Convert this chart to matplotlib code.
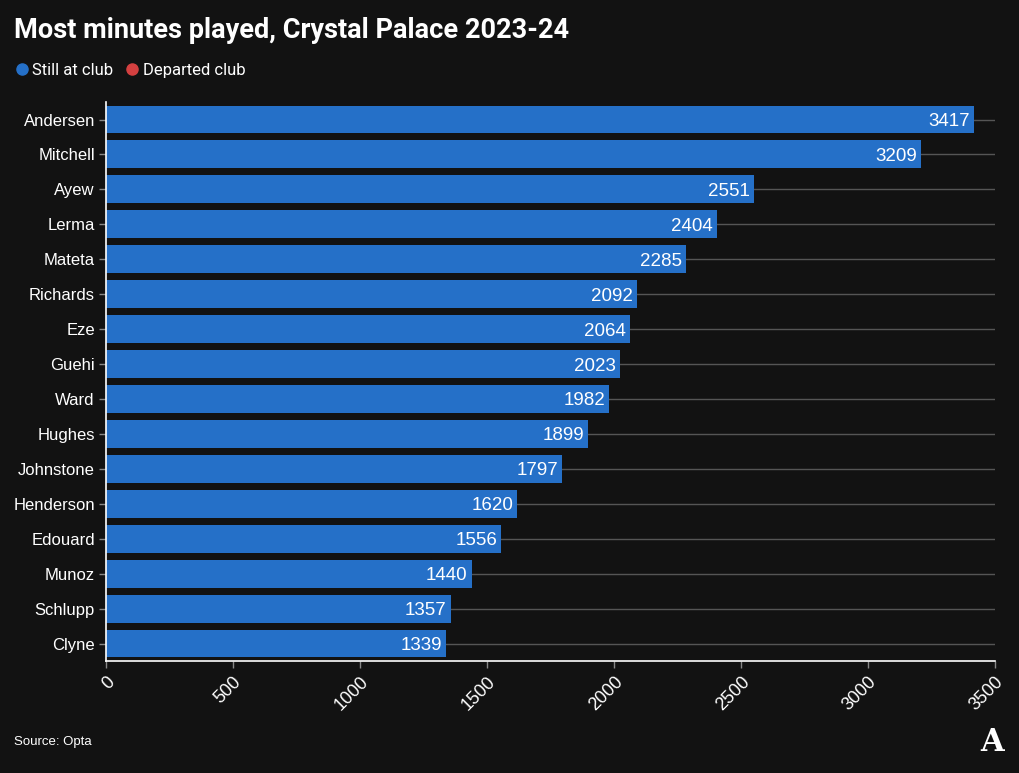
import matplotlib
matplotlib.use("Agg")
import matplotlib.pyplot as plt
from matplotlib.lines import Line2D

# data
players = ["Andersen", "Mitchell", "Ayew", "Lerma", "Mateta", "Richards", "Eze", "Guehi",
           "Ward", "Hughes", "Johnstone", "Henderson", "Edouard", "Munoz", "Schlupp", "Clyne"]
minutes = [3417, 3209, 2551, 2404, 2285, 2092, 2064, 2023,
           1982, 1899, 1797, 1620, 1556, 1440, 1357, 1339]
xticks = [0, 500, 1000, 1500, 2000, 2500, 3000, 3500]

bg = "#121212"
blue = "#2570c8"
red = "#d44040"

fig = plt.figure(figsize=(10.2, 7.73), dpi=100, facecolor=bg)
ax = fig.add_axes([0.1039, 0.1449, 0.8716, 0.7231])
ax.set_facecolor(bg)

y = list(range(len(players)))
ax.barh(y, minutes, height=0.8, color=blue, zorder=2)
for yi, v in zip(y, minutes):
    ax.text(v - 16, yi, str(v), ha="right", va="center_baseline", color="white",
            fontsize=13.5, family="Liberation Sans", zorder=3)

ax.set_ylim(len(players) - 0.5, -0.5)
ax.set_xlim(0, 3500)
ax.set_yticks(y)
ax.set_yticklabels(players, fontsize=12, color="white", family="Liberation Sans")
ax.set_xticks(xticks)
ax.set_xticklabels([str(t) for t in xticks], rotation=45, ha="right", va="top",
                   rotation_mode="anchor", fontsize=13, color="white", family="Liberation Sans")
ax.tick_params(axis="both", colors="#888888", length=5, width=1)
ax.tick_params(axis="x", pad=4, labelcolor="white")
ax.tick_params(axis="y", labelcolor="white", pad=3)

ax.grid(axis="y", color="#555555", linewidth=1, zorder=0)
ax.grid(axis="x", visible=False)
for s in ["top", "right"]:
    ax.spines[s].set_visible(False)
for s in ["left", "bottom"]:
    ax.spines[s].set_color("white")
    ax.spines[s].set_linewidth(1.2)

fig.text(0.014, 0.961, "Most minutes played, Crystal Palace 2023-24", ha="left", va="center",
         color="white", fontsize=19.5, fontweight="bold", family="Roboto")

handles = [Line2D([], [], marker="o", ls="", color=blue, markersize=8),
           Line2D([], [], marker="o", ls="", color=red, markersize=8)]
leg = fig.legend(handles, ["Still at club", "Departed club"], loc="center left",
                 bbox_to_anchor=(0.0, 0.909), ncol=2, frameon=False, handletextpad=0.15,
                 columnspacing=0.6, handlelength=1.0, borderpad=0.3,
                 prop={"family": "Roboto", "size": 12})
for t in leg.get_texts():
    t.set_color("white")

fig.text(0.014, 0.04, "Source: Opta", ha="left", va="center", color="white", fontsize=9.5,
         family="Liberation Sans")
fig.text(0.973, 0.04, "A", ha="center", va="center", color="white", fontsize=22,
         family="DejaVu Serif", fontweight="bold")

fig.savefig("out.png", dpi=100, facecolor=bg)
